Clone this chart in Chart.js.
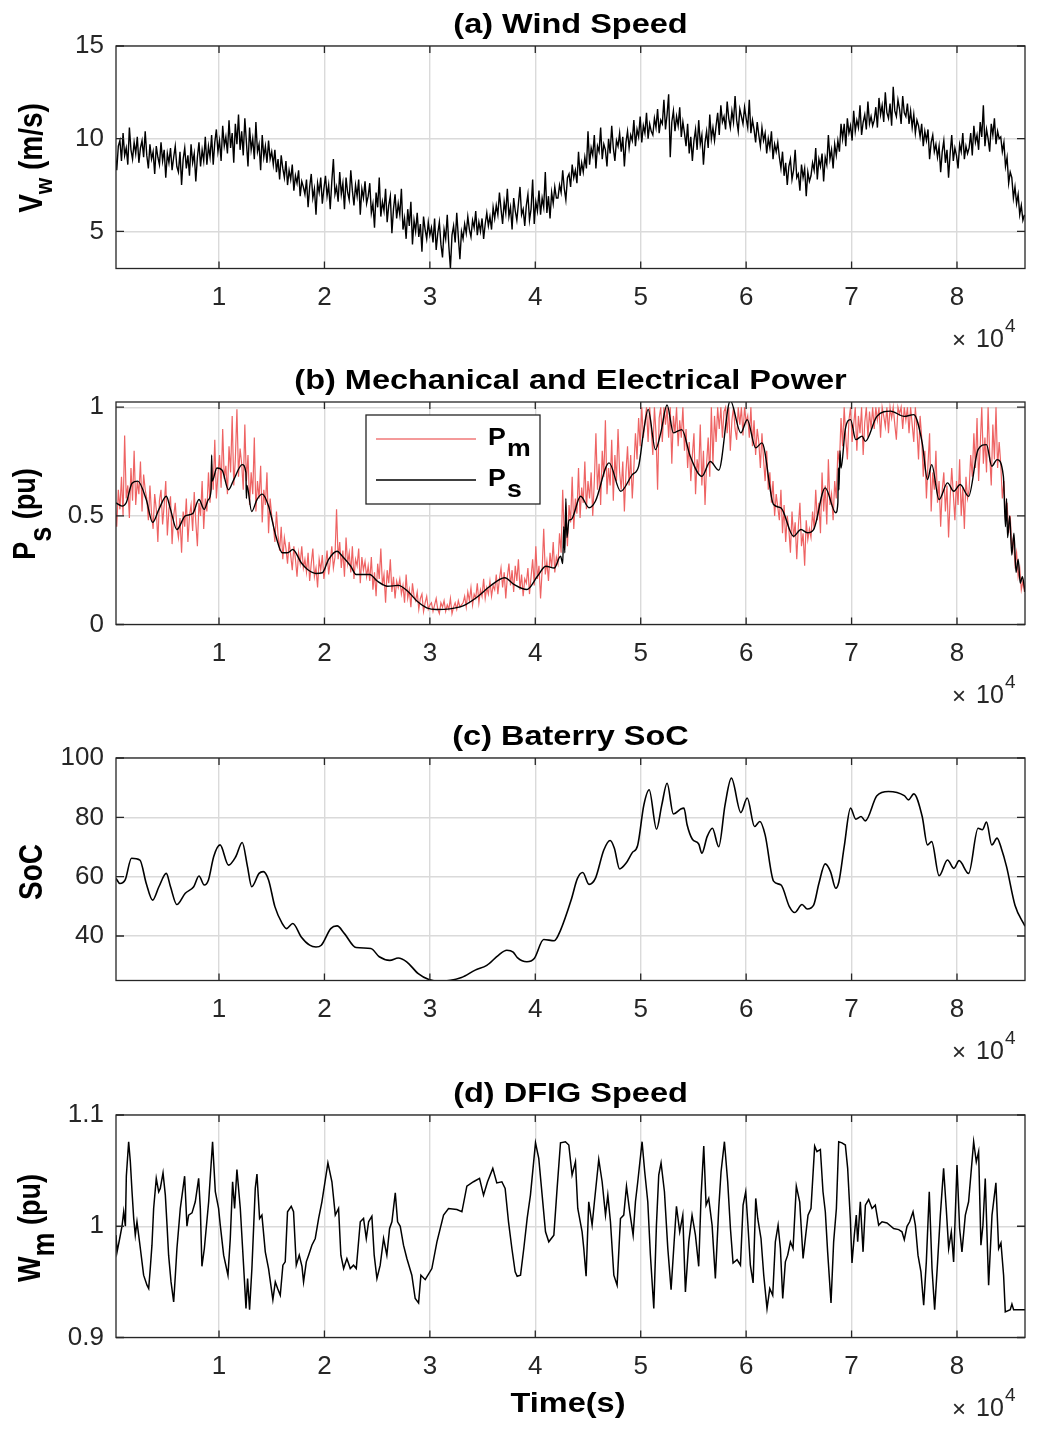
<!DOCTYPE html>
<html>
<head>
<meta charset="utf-8">
<script src="https://cdn.jsdelivr.net/npm/chart.js@4.4.1/dist/chart.umd.min.js"></script>
<style>
  body { margin: 0; background: #fff; }
  #figure { position: relative; width: 1037px; height: 1431px; }
  canvas { position: absolute; left: 0; }
</style>
</head>
<body>
<div id="figure">
  <canvas id="windChart" width="1037" height="356" style="top:0px"></canvas>
  <canvas id="powerChart" width="1037" height="356" style="top:356px"></canvas>
  <canvas id="socChart" width="1037" height="356" style="top:712px"></canvas>
  <canvas id="speedChart" width="1037" height="362" style="top:1069px"></canvas>
</div>
<script>
// time is in units of 1e4 s (the axes show x10^4)
const xTicks = [1, 2, 3, 4, 5, 6, 7, 8];
const xMin = 0.023;
const xMax = 8.645;
const sampleStep = 0.015; // 150 s between samples of the noisy traces

// (a) wind speed, m/s, one value every 150 s
const windSpeed = [
  9.2, 8.3, 9.6, 9.9, 8.8, 10.3, 9.1, 9.5, 8.6, 10.6, 9.4, 8.9, 9.8, 9.2, 10.1, 8.7, 9.5, 9.9, 9.0, 10.4,
  9.1, 8.4, 9.7, 8.9, 9.3, 8.1, 9.6, 9.0, 8.6, 9.8, 8.8, 9.4, 7.9, 9.2, 8.7, 9.5, 8.3, 9.0, 9.6, 8.5,
  8.2, 9.3, 7.5, 8.9, 9.5, 8.4, 9.1, 8.0, 9.7, 8.7, 9.2, 7.7, 9.0, 9.8, 8.5, 9.4, 8.8, 10.1, 8.6, 9.6,
  9.0, 10.2, 8.6, 9.8, 10.5, 9.3, 9.9, 8.8, 10.7, 9.6, 10.1, 9.2, 11.0, 9.5, 10.3, 8.7, 10.8, 9.7, 11.3, 9.4,
  10.4, 9.1, 11.1, 9.8, 8.5, 10.6, 9.4, 10.0, 8.9, 10.9, 9.3, 9.7, 8.3, 10.2, 9.0, 9.6, 8.7, 9.9, 8.9, 9.3,
  8.6, 9.4, 8.2, 8.9, 7.8, 9.1, 8.4, 7.9, 8.8, 7.5, 8.3, 7.8, 8.6, 7.2, 8.0, 7.6, 8.3, 6.9, 7.7, 7.4,
  7.0, 7.8, 6.3, 7.4, 8.1, 6.8, 7.3, 5.9, 7.6, 7.1, 7.9, 6.5, 7.3, 8.0, 6.9, 7.5, 6.2, 7.7, 8.9, 7.0,
  7.4, 6.6, 8.2, 7.0, 7.6, 6.2, 7.9, 7.1, 6.7, 8.3, 7.2, 6.4, 7.5, 6.9, 7.8, 5.9, 7.3, 6.8, 7.7, 6.5,
  6.9, 7.6, 6.0, 6.5, 5.2, 7.1, 6.3, 7.9, 5.8, 6.6, 6.1, 7.3, 5.5, 6.4, 6.9, 4.9, 6.2, 7.0, 5.7, 6.5,
  5.9, 7.3, 5.1, 5.7, 4.6, 6.2, 5.3, 6.6, 4.3, 5.6, 5.0, 6.0, 4.7, 5.4, 3.9, 5.8, 5.1, 4.6, 5.5, 4.8,
  5.2, 4.4, 5.7, 4.0, 4.9, 5.5, 4.3, 3.6, 5.1, 4.6, 5.9, 4.2, 3.0, 4.8, 5.3, 4.4, 6.0, 4.7, 3.5, 5.0,
  4.6, 5.4, 4.9, 5.8, 5.1, 4.7, 5.6, 5.2, 6.1, 4.8, 5.5, 5.0, 5.7, 4.6, 5.4, 6.0, 5.3, 5.8, 5.1, 6.3,
  5.7, 6.4, 5.9, 7.1, 6.2, 5.4, 6.6, 6.0, 7.3, 5.8, 6.3, 5.1, 6.8, 6.1, 5.6, 6.5, 7.4, 5.9, 6.2, 5.3,
  6.4, 7.0, 5.6, 6.2, 7.8, 5.4, 6.6, 6.1, 7.2, 5.9, 6.8, 6.3, 8.2, 6.0, 6.9, 5.7, 7.1, 6.5, 7.4, 6.8,
  6.8, 7.5, 7.1, 8.3, 7.3, 6.7, 7.9, 8.1, 7.4, 8.6, 7.9, 8.3, 7.6, 9.3, 8.0, 8.7, 8.2, 9.0, 8.4, 10.4,
  8.6, 9.5, 9.1, 10.2, 8.4, 9.6, 9.3, 10.6, 8.9, 9.7, 9.4, 8.5, 10.0, 9.2, 10.7, 9.5, 8.8, 9.9, 9.6, 10.3,
  9.3, 10.1, 8.5, 9.8, 10.4, 9.5, 10.2, 9.9, 11.0, 9.6, 10.5, 10.1, 11.2, 9.8, 10.7, 10.3, 11.4, 10.0, 10.8, 10.4,
  10.2, 11.1, 10.6, 11.6, 10.3, 11.0, 10.8, 12.1, 10.5, 11.3, 12.4, 9.0, 10.9, 11.5, 10.4, 11.2, 10.7, 11.7, 10.1, 10.9,
  10.3, 9.6, 10.8, 9.2, 10.1, 8.8, 9.9, 10.5, 9.4, 11.0, 9.7, 10.2, 8.6, 9.8, 10.4, 9.5, 11.3, 10.0, 10.6, 9.9,
  10.7, 11.4, 10.2, 11.8, 10.9, 11.2, 10.5, 12.0, 11.1, 10.6, 11.5, 10.9, 12.3, 11.0, 10.4, 11.6, 11.2, 10.8, 11.7, 11.1,
  10.6, 12.1, 10.3, 11.0, 10.5, 9.8, 10.9, 10.2, 9.6, 10.6, 9.9, 10.3, 9.2, 10.0, 9.5, 10.4, 8.9, 9.7, 9.3, 9.8,
  9.0, 8.4, 9.3, 8.0, 8.7, 7.5, 8.5, 8.9, 7.8, 8.3, 9.4, 7.9, 8.1, 7.2, 8.6, 7.9, 8.4, 6.9, 8.2, 7.7,
  8.0, 8.7, 8.3, 9.5, 7.8, 8.9, 8.5, 9.2, 7.7, 9.0, 8.6, 10.2, 8.9, 9.4, 8.4, 9.7, 9.1, 9.9, 9.3, 10.8,
  10.0, 10.8, 9.6, 11.1, 10.3, 10.7, 9.9, 11.5, 10.4, 11.0, 10.6, 11.8, 10.2, 10.9, 11.3, 10.5, 12.0, 10.8, 11.2, 10.7,
  11.0, 11.7, 10.6, 12.2, 11.3, 11.8, 10.9, 12.5, 11.4, 11.1, 11.9, 10.7, 12.8, 11.5, 11.2, 12.1, 11.6, 10.8, 12.3, 11.4,
  11.2, 11.9, 10.8, 11.5, 10.6, 11.3, 10.3, 11.0, 10.7, 10.1, 10.8, 9.6, 10.4, 9.9, 10.5, 8.9, 9.8, 10.2, 9.3, 9.7,
  9.0, 9.6, 8.2, 9.3, 9.9, 8.7, 9.4, 7.9, 9.2, 10.2, 8.8, 9.5, 9.1, 8.4, 9.7, 9.3, 10.3, 8.9, 9.6, 9.2,
  9.5, 10.3, 9.1, 10.7, 9.8, 10.2, 9.4, 10.9, 10.1, 11.8, 9.6, 10.5, 10.0, 9.3, 10.8, 10.2, 11.1, 9.7, 10.4, 10.0,
  10.1, 9.3, 9.8, 8.5, 9.0, 7.6, 8.2, 7.9, 6.8, 7.4, 6.5, 7.0, 5.9, 6.4, 5.6, 5.9
];

// (b) mechanical power Pm, pu, one value every 150 s
const mechPower = [
  0.56, 0.45, 0.62, 0.53, 0.68, 0.50, 0.87, 0.58, 0.64, 0.49, 0.72, 0.57, 0.80, 0.55, 0.66, 0.60, 0.75, 0.52, 0.69, 0.62,
  0.58, 0.48, 0.64, 0.51, 0.44, 0.60, 0.53, 0.38, 0.57, 0.62, 0.46, 0.55, 0.66, 0.41, 0.53, 0.59, 0.37, 0.50, 0.56, 0.45,
  0.40, 0.49, 0.33, 0.52, 0.45, 0.58, 0.38, 0.50, 0.55, 0.43, 0.61, 0.47, 0.36, 0.56, 0.50, 0.66, 0.44, 0.58, 0.52, 0.70,
  0.56, 0.74, 0.62, 0.85, 0.58, 0.69, 0.78, 0.63, 0.90, 0.67, 0.73, 0.60, 0.82, 0.70, 0.96, 0.64, 0.76, 0.99, 0.68, 0.81,
  0.74, 0.62, 0.92, 0.66, 0.78, 0.55, 0.70, 0.60, 0.86, 0.52, 0.66, 0.58, 0.73, 0.47, 0.62, 0.55, 0.70, 0.42, 0.58, 0.50,
  0.46, 0.38, 0.52, 0.41, 0.34, 0.45, 0.30, 0.40, 0.35, 0.28, 0.38, 0.32, 0.25, 0.36, 0.30, 0.22, 0.33, 0.28, 0.36, 0.26,
  0.30, 0.24, 0.33, 0.20, 0.28, 0.35, 0.22, 0.26, 0.17, 0.30, 0.25, 0.32, 0.21, 0.27, 0.34, 0.23, 0.29, 0.36, 0.26, 0.31,
  0.53, 0.30, 0.38, 0.26, 0.34, 0.22, 0.40, 0.28, 0.33, 0.24, 0.36, 0.21, 0.30, 0.27, 0.35, 0.19, 0.31, 0.25, 0.29, 0.22,
  0.27, 0.20, 0.31, 0.16, 0.24, 0.13, 0.28, 0.21, 0.35, 0.18, 0.23, 0.10, 0.25, 0.19, 0.30, 0.15, 0.22, 0.12, 0.20, 0.17,
  0.21, 0.14, 0.18, 0.10, 0.23, 0.12, 0.16, 0.08, 0.19, 0.13, 0.11, 0.15, 0.07, 0.12, 0.14, 0.06, 0.10, 0.13, 0.07, 0.09,
  0.10, 0.06, 0.09, 0.12, 0.07, 0.05, 0.10, 0.08, 0.11, 0.06, 0.09, 0.07, 0.12, 0.05, 0.08, 0.10, 0.07, 0.11, 0.08, 0.09,
  0.10, 0.13, 0.08, 0.15, 0.11, 0.17, 0.09, 0.14, 0.12, 0.19, 0.10, 0.16, 0.13, 0.21, 0.12, 0.17, 0.14, 0.20, 0.13, 0.18,
  0.16, 0.23, 0.14, 0.21, 0.26, 0.17, 0.24, 0.12, 0.22, 0.28, 0.18, 0.25, 0.15, 0.27, 0.20, 0.30, 0.16, 0.23, 0.13, 0.21,
  0.19, 0.26, 0.14, 0.22, 0.30, 0.18, 0.36, 0.21, 0.27, 0.12, 0.25, 0.44, 0.23, 0.29, 0.20, 0.33, 0.26, 0.38, 0.24, 0.31,
  0.28, 0.42, 0.33, 0.62, 0.40, 0.50, 0.36, 0.55, 0.47, 0.68, 0.44, 0.58, 0.51, 0.72, 0.49, 0.63, 0.56, 0.75, 0.53, 0.66,
  0.58, 0.70, 0.50, 0.66, 0.88, 0.62, 0.74, 0.55, 0.80, 0.68, 0.94, 0.60, 0.72, 0.64, 0.85, 0.57, 0.78, 0.66, 0.90, 0.70,
  0.62, 0.75, 0.52, 0.70, 0.82, 0.64, 0.78, 0.58, 0.72, 0.88, 0.76, 0.95, 0.82, 1.00, 0.86, 0.93, 1.00, 0.84, 1.00, 0.90,
  0.78, 1.00, 0.88, 0.62, 0.95, 1.00, 0.84, 1.00, 0.92, 1.00, 0.86, 1.00, 0.74, 0.96, 0.88, 1.00, 0.82, 0.94, 0.86, 1.00,
  0.80, 0.90, 0.72, 0.84, 0.66, 0.78, 0.88, 0.60, 0.76, 0.70, 0.92, 0.64, 0.80, 0.55, 0.74, 0.86, 0.68, 1.00, 0.74, 0.96,
  0.84, 1.00, 0.90, 1.00, 0.86, 0.98, 1.00, 0.88, 1.00, 0.80, 0.94, 1.00, 0.90, 0.85, 1.00, 0.92, 1.00, 0.87, 1.00, 0.93,
  0.96, 0.86, 1.00, 0.82, 0.94, 0.78, 0.90, 0.84, 0.72, 0.88, 0.76, 0.66, 0.80, 0.62, 0.70, 0.56, 0.66, 0.50, 0.60, 0.54,
  0.48, 0.62, 0.42, 0.55, 0.38, 0.50, 0.44, 0.33, 0.52, 0.40, 0.47, 0.30, 0.45, 0.56, 0.36, 0.42, 0.27, 0.48, 0.39, 0.44,
  0.40, 0.52, 0.44, 0.62, 0.48, 0.56, 0.42, 0.70, 0.52, 0.64, 0.46, 0.76, 0.55, 0.60, 0.48, 0.66, 0.58, 0.80, 0.74, 0.95,
  0.82, 1.00, 0.86, 0.76, 0.94, 1.00, 0.84, 0.92, 1.00, 0.80, 0.96, 0.88, 1.00, 0.78, 0.93, 1.00, 0.86, 0.98, 0.90, 1.00,
  0.90, 1.00, 0.94, 1.00, 0.86, 1.00, 0.96, 0.91, 1.00, 0.88, 1.00, 0.95, 1.00, 0.92, 0.85, 1.00, 0.97, 1.00, 0.90, 1.00,
  0.94, 1.00, 0.88, 1.00, 0.92, 0.84, 1.00, 0.90, 0.76, 0.96, 0.86, 0.68, 0.80, 0.58, 0.74, 0.88, 0.52, 0.70, 0.62, 0.80,
  0.56, 0.66, 0.45, 0.62, 0.70, 0.52, 0.64, 0.40, 0.58, 0.72, 0.60, 0.48, 0.66, 0.55, 0.76, 0.50, 0.63, 0.44, 0.68, 0.58,
  0.62, 0.78, 0.68, 0.88, 0.72, 0.95, 0.66, 0.82, 1.00, 0.74, 0.86, 0.70, 1.00, 0.78, 0.64, 0.92, 0.76, 1.00, 0.72, 0.84,
  0.74, 0.58, 0.66, 0.48, 0.56, 0.42, 0.50, 0.34, 0.40, 0.28, 0.33, 0.22, 0.26, 0.16, 0.20, 0.15
];

// (b) electrical power Ps, pu
const statorTime = [
  0.023, 0.08, 0.12, 0.175, 0.23, 0.31, 0.37, 0.43, 0.50, 0.54, 0.60, 0.68, 0.75, 0.81, 0.86, 0.90,
  0.925, 0.93, 0.935, 0.98, 1.03, 1.09, 1.14, 1.22, 1.255, 1.26, 1.265, 1.31, 1.36, 1.41, 1.47,
  1.54, 1.60, 1.65, 1.70, 1.78, 1.84, 1.92, 1.98, 2.04, 2.12, 2.17, 2.25, 2.30, 2.43, 2.50, 2.60,
  2.70, 2.79, 2.88, 2.97, 3.06, 3.19, 3.32, 3.44, 3.57, 3.71, 3.80, 3.92, 4.02, 4.10, 4.18, 4.24,
  4.26, 4.27, 4.28, 4.29, 4.30, 4.32, 4.34, 4.43, 4.51, 4.57, 4.70, 4.81, 4.92, 4.98, 5.03, 5.07,
  5.14, 5.19, 5.25, 5.31, 5.39, 5.47, 5.58, 5.66, 5.74, 5.85, 5.95, 6.01, 6.09, 6.15, 6.26, 6.33,
  6.45, 6.52, 6.58, 6.64, 6.75, 6.85, 6.87, 6.875, 6.88, 6.89, 6.90, 6.94, 6.99, 7.04, 7.10, 7.13,
  7.24, 7.37, 7.50, 7.59, 7.67, 7.72, 7.76, 7.83, 7.91, 7.97, 8.03, 8.11, 8.20, 8.28, 8.33, 8.38,
  8.44, 8.46, 8.47, 8.48, 8.50, 8.52, 8.54, 8.56, 8.58, 8.60, 8.62, 8.645
];
const statorPower = [
  0.56, 0.545, 0.56, 0.65, 0.66, 0.575, 0.47, 0.53, 0.59, 0.53, 0.437, 0.50, 0.51, 0.575, 0.53, 0.575,
  0.62, 0.78, 0.66, 0.72, 0.71, 0.62, 0.667, 0.736, 0.70, 0.58, 0.64, 0.52, 0.575, 0.60, 0.545,
  0.406, 0.33, 0.33, 0.345, 0.284, 0.253, 0.235, 0.238, 0.30, 0.337, 0.314, 0.268, 0.23, 0.23, 0.20, 0.176,
  0.18, 0.153, 0.107, 0.077, 0.069, 0.072, 0.087, 0.123, 0.176, 0.215, 0.184, 0.161, 0.222, 0.268, 0.26, 0.314,
  0.28, 0.45, 0.33, 0.58, 0.40, 0.48, 0.483, 0.59, 0.537, 0.567, 0.744, 0.613, 0.69, 0.728, 0.897, 0.99,
  0.805, 0.882, 1.01, 0.882, 0.897, 0.774, 0.682, 0.75, 0.71, 1.03, 0.882, 0.943, 0.813, 0.836, 0.552, 0.537,
  0.406, 0.437, 0.422, 0.437, 0.629, 0.514, 0.56, 0.72, 0.62, 0.80, 0.72, 0.897, 0.943, 0.851, 0.867, 0.843,
  0.958, 0.982, 0.958, 0.966, 0.836, 0.667, 0.736, 0.575, 0.652, 0.613, 0.644, 0.59, 0.805, 0.828, 0.728, 0.759,
  0.682, 0.45, 0.58, 0.40, 0.50, 0.32, 0.42, 0.24, 0.30, 0.19, 0.22, 0.15
];

// (c) battery state of charge, %
const socTime = [
  0.023, 0.06, 0.11, 0.17, 0.25, 0.31, 0.37, 0.43, 0.50, 0.54, 0.60, 0.68, 0.76, 0.81, 0.86, 0.90,
  0.95, 1.01, 1.09, 1.16, 1.22, 1.27, 1.31, 1.38, 1.42, 1.47, 1.53, 1.60, 1.64, 1.70, 1.78, 1.86,
  1.92, 1.97, 2.06, 2.12, 2.19, 2.30, 2.44, 2.52, 2.62, 2.70, 2.78, 2.89, 2.99, 3.09, 3.30, 3.43,
  3.54, 3.65, 3.73, 3.79, 3.83, 3.92, 3.99, 4.08, 4.18, 4.24, 4.34, 4.40, 4.45, 4.51, 4.57, 4.65,
  4.71, 4.75, 4.80, 4.86, 4.92, 4.97, 5.03, 5.08, 5.15, 5.20, 5.25, 5.31, 5.38, 5.41, 5.44, 5.49,
  5.55, 5.58, 5.63, 5.68, 5.74, 5.80, 5.86, 5.95, 6.01, 6.08, 6.13, 6.18, 6.26, 6.33, 6.41, 6.46,
  6.53, 6.58, 6.64, 6.69, 6.75, 6.80, 6.85, 6.88, 6.93, 6.99, 7.04, 7.09, 7.13, 7.24, 7.35, 7.50,
  7.54, 7.59, 7.67, 7.72, 7.76, 7.83, 7.91, 7.97, 8.02, 8.11, 8.20, 8.24, 8.28, 8.33, 8.38, 8.42,
  8.47, 8.55, 8.645
];
const socLevel = [
  59.4, 57.7, 58.9, 66.2, 65.6, 57.7, 52.1, 56.6, 61.1, 56.6, 50.6, 54.4, 56.6, 60.2, 57.2, 58.9,
  66.8, 70.7, 63.9, 66.8, 71.5, 63.4, 56.6, 61.1, 61.7, 58.9, 49.9, 44.2, 42.5, 44.2, 39.7, 36.9,
  36.3, 36.9, 42.5, 43.4, 40.8, 36.1, 35.8, 33.0, 31.8, 32.6, 31.3, 27.3, 25.3, 24.7, 26.0, 28.5,
  30.1, 33.5, 35.2, 34.6, 32.7, 31.3, 32.4, 38.8, 38.4, 42.0, 52.1, 59.4, 61.4, 57.4, 59.4, 69.0,
  72.2, 69.6, 62.6, 64.5, 68.1, 70.4, 84.2, 89.3, 76.0, 84.2, 91.5, 81.1, 82.8, 83.1, 77.5, 72.6,
  71.0, 67.9, 73.5, 76.3, 70.1, 84.2, 93.2, 81.6, 86.5, 76.9, 78.6, 74.1, 58.5, 57.2, 49.9, 47.9,
  50.6, 49.1, 50.4, 57.7, 64.3, 61.7, 56.1, 58.3, 70.1, 83.1, 79.4, 80.3, 78.8, 87.3, 88.7, 87.3,
  85.9, 87.9, 80.3, 70.7, 71.8, 60.3, 65.6, 62.8, 65.4, 61.1, 76.3, 75.8, 78.4, 70.7, 73.0, 69.6,
  63.4, 50.4, 43.3
];

// (d) DFIG rotor speed, pu
const rotorTime = [
  0.023, 0.033, 0.058, 0.080, 0.096, 0.112, 0.121, 0.143, 0.159, 0.175, 0.191, 0.206, 0.222, 0.238, 0.254, 0.285,
  0.317, 0.333, 0.348, 0.364, 0.380, 0.405, 0.428, 0.443, 0.469, 0.491, 0.507, 0.522, 0.545, 0.570, 0.586, 0.601,
  0.633, 0.674, 0.696, 0.712, 0.744, 0.775, 0.807, 0.823, 0.838, 0.861, 0.902, 0.939, 0.965, 0.996, 1.012, 1.044,
  1.085, 1.107, 1.129, 1.148, 1.170, 1.202, 1.233, 1.256, 1.271, 1.290, 1.312, 1.344, 1.360, 1.385, 1.407, 1.439,
  1.470, 1.511, 1.534, 1.556, 1.581, 1.606, 1.628, 1.650, 1.685, 1.707, 1.733, 1.761, 1.787, 1.802, 1.828, 1.850,
  1.881, 1.913, 1.945, 1.976, 2.033, 2.071, 2.103, 2.134, 2.156, 2.182, 2.213, 2.245, 2.276, 2.302, 2.340, 2.371,
  2.397, 2.419, 2.450, 2.472, 2.498, 2.529, 2.561, 2.592, 2.618, 2.640, 2.672, 2.694, 2.719, 2.750, 2.782, 2.829,
  2.861, 2.893, 2.915, 2.956, 3.019, 3.067, 3.130, 3.177, 3.256, 3.304, 3.351, 3.414, 3.471, 3.509, 3.547, 3.597,
  3.635, 3.683, 3.714, 3.746, 3.778, 3.809, 3.828, 3.860, 3.891, 3.923, 3.954, 4.002, 4.033, 4.065, 4.097, 4.128,
  4.176, 4.207, 4.239, 4.286, 4.318, 4.349, 4.381, 4.403, 4.444, 4.460, 4.482, 4.507, 4.539, 4.561, 4.602, 4.634,
  4.666, 4.688, 4.713, 4.745, 4.776, 4.808, 4.839, 4.865, 4.896, 4.928, 4.950, 4.972, 5.013, 5.038, 5.067, 5.092,
  5.124, 5.149, 5.171, 5.193, 5.225, 5.257, 5.288, 5.313, 5.339, 5.370, 5.399, 5.424, 5.456, 5.487, 5.519, 5.550,
  5.573, 5.598, 5.620, 5.645, 5.677, 5.708, 5.740, 5.762, 5.794, 5.825, 5.851, 5.876, 5.914, 5.946, 5.971, 5.996,
  6.015, 6.040, 6.066, 6.091, 6.110, 6.141, 6.167, 6.198, 6.224, 6.252, 6.277, 6.303, 6.325, 6.347, 6.372, 6.394,
  6.420, 6.445, 6.476, 6.508, 6.540, 6.565, 6.587, 6.615, 6.650, 6.672, 6.704, 6.729, 6.751, 6.773, 6.805, 6.830,
  6.856, 6.878, 6.909, 6.941, 6.963, 6.988, 7.004, 7.026, 7.045, 7.058, 7.083, 7.109, 7.131, 7.162, 7.194, 7.225,
  7.257, 7.289, 7.336, 7.399, 7.447, 7.478, 7.500, 7.526, 7.551, 7.583, 7.605, 7.630, 7.658, 7.684, 7.709, 7.737,
  7.763, 7.788, 7.816, 7.842, 7.873, 7.898, 7.921, 7.946, 7.968, 8.000, 8.025, 8.047, 8.079, 8.110, 8.158, 8.183,
  8.205, 8.227, 8.246, 8.268, 8.300, 8.332, 8.369, 8.395, 8.417, 8.442, 8.458, 8.505, 8.521, 8.537, 8.632, 8.645
];
const rotorSpeed = [
  0.992, 0.977, 0.989, 1.000, 1.013, 1.000, 1.045, 1.076, 1.058, 1.031, 1.007, 0.992, 1.004, 0.992, 0.980, 0.956,
  0.947, 0.944, 0.962, 0.983, 1.016, 1.043, 1.031, 1.034, 1.048, 1.028, 1.001, 0.974, 0.950, 0.932, 0.956, 0.980,
  1.016, 1.045, 1.000, 1.010, 1.012, 1.022, 1.043, 1.016, 0.964, 0.980, 1.022, 1.076, 1.031, 1.016, 1.001, 0.974,
  0.956, 0.989, 1.040, 1.016, 1.051, 1.016, 0.965, 0.926, 0.953, 0.925, 0.962, 1.034, 1.047, 1.007, 1.010, 0.977,
  0.962, 0.934, 0.950, 0.944, 0.938, 0.965, 0.968, 1.013, 1.018, 1.013, 0.965, 0.974, 0.964, 0.950, 0.968, 0.974,
  0.983, 0.989, 1.007, 1.022, 1.057, 1.040, 1.010, 1.016, 0.974, 0.962, 0.971, 0.962, 0.965, 0.962, 1.004, 1.007,
  0.989, 1.004, 1.009, 0.974, 0.953, 0.965, 0.989, 0.974, 0.998, 1.004, 1.030, 1.004, 1.000, 0.983, 0.971, 0.956,
  0.935, 0.931, 0.956, 0.952, 0.962, 0.986, 1.010, 1.016, 1.015, 1.013, 1.036, 1.040, 1.043, 1.028, 1.040, 1.052,
  1.039, 1.040, 1.034, 1.004, 0.980, 0.959, 0.955, 0.956, 0.980, 1.007, 1.028, 1.075, 1.061, 1.028, 0.995, 0.986,
  0.992, 1.034, 1.075, 1.076, 1.073, 1.046, 1.058, 1.016, 0.995, 0.980, 0.955, 1.022, 1.001, 1.022, 1.060, 1.040,
  1.010, 1.028, 1.004, 0.956, 0.947, 1.007, 1.010, 1.036, 1.013, 0.992, 1.022, 1.040, 1.076, 1.049, 1.022, 0.974,
  0.926, 1.001, 1.046, 1.057, 1.031, 0.980, 0.943, 0.980, 1.018, 0.995, 1.010, 0.941, 0.986, 1.010, 0.992, 0.964,
  1.028, 1.072, 1.019, 1.025, 1.001, 0.953, 1.016, 1.049, 1.076, 1.040, 0.998, 0.967, 0.970, 0.965, 1.019, 1.031,
  1.004, 0.965, 0.949, 1.025, 1.007, 0.989, 0.956, 0.926, 0.944, 0.938, 0.986, 1.001, 0.980, 0.935, 0.968, 0.974,
  0.986, 0.980, 1.036, 1.022, 0.971, 0.992, 1.010, 1.016, 1.072, 1.067, 1.069, 1.031, 1.013, 0.977, 0.931, 0.986,
  1.016, 1.076, 1.075, 1.073, 1.052, 1.007, 0.967, 0.992, 1.010, 0.986, 1.022, 0.977, 1.019, 1.024, 1.016, 1.019,
  1.001, 1.004, 1.003, 0.998, 0.997, 0.995, 0.988, 1.000, 1.004, 1.013, 1.001, 0.974, 0.959, 0.929, 0.968, 1.031,
  0.962, 0.925, 0.968, 1.010, 1.052, 1.016, 0.980, 0.995, 0.968, 1.055, 0.998, 0.977, 1.010, 1.022, 1.076, 1.058,
  1.067, 0.983, 1.001, 1.043, 0.947, 1.010, 1.039, 0.980, 0.985, 0.956, 0.923, 0.925, 0.930, 0.925, 0.925, 0.925
];

const FONT = '"Liberation Sans", Arial, Helvetica, sans-serif';
const INK = '#262626';
const GRID = '#dadada';
const BOLD_STRETCH = 1.16;

// per-canvas decorations (titles, labels, legend); kept out of chart options
const frames = {};

function sampled(values) {
  return values.map((v, i) => ({ x: (i + 1) * sampleStep, y: v }));
}
function paired(times, values) {
  return times.map((t, i) => ({ x: t, y: values[i] }));
}

function drawRuns(ctx, runs, x, y) {
  let cx = x;
  runs.forEach(r => {
    ctx.font = `bold ${r.size}px ${FONT}`;
    ctx.fillText(r.text, cx, y + (r.shift || 0));
    cx += ctx.measureText(r.text).width + (r.gap || 0);
  });
}
function runsWidth(ctx, runs) {
  let w = 0;
  runs.forEach(r => {
    ctx.font = `bold ${r.size}px ${FONT}`;
    w += ctx.measureText(r.text).width + (r.gap || 0);
  });
  return w;
}

const matlabFrame = {
  id: 'matlabFrame',
  afterDatasetsDraw(chart) {
    const { ctx, chartArea: a, scales } = chart;
    ctx.save();
    ctx.strokeStyle = INK;
    ctx.lineWidth = 1.3;
    ctx.beginPath();
    scales.x.ticks.forEach(t => {
      const px = scales.x.getPixelForValue(t.value);
      ctx.moveTo(px, a.bottom); ctx.lineTo(px, a.bottom - 7);
      ctx.moveTo(px, a.top); ctx.lineTo(px, a.top + 7);
    });
    scales.y.ticks.forEach(t => {
      const py = scales.y.getPixelForValue(t.value);
      ctx.moveTo(a.left, py); ctx.lineTo(a.left + 8, py);
      ctx.moveTo(a.right, py); ctx.lineTo(a.right - 8, py);
    });
    ctx.stroke();
    ctx.strokeRect(a.left, a.top, a.right - a.left, a.bottom - a.top);
    ctx.restore();
  },
  afterDraw(chart) {
    const opts = frames[chart.canvas.id];
    if (!opts) return;
    const { ctx, chartArea: a } = chart;
    ctx.save();
    ctx.fillStyle = '#000';
    ctx.textBaseline = 'alphabetic';

    // panel title
    ctx.font = `bold 28px ${FONT}`;
    const tw = ctx.measureText(opts.title).width * BOLD_STRETCH;
    ctx.save();
    ctx.translate((a.left + a.right) / 2 - tw / 2, 33);
    ctx.scale(BOLD_STRETCH, 1);
    ctx.fillText(opts.title, 0, 0);
    ctx.restore();

    // rotated y label with subscript
    const lw = runsWidth(ctx, opts.ylabel);
    ctx.save();
    ctx.translate(opts.ylabelX, opts.ylabelY);
    ctx.rotate(-Math.PI / 2);
    ctx.scale(1, BOLD_STRETCH);
    drawRuns(ctx, opts.ylabel, -lw / 2, 0);
    ctx.restore();

    // x10^4 exponent
    ctx.fillStyle = INK;
    ctx.font = `24px ${FONT}`;
    ctx.fillText('\u00d7', 952, 348);
    ctx.font = `25px ${FONT}`;
    ctx.fillText('10', 976, 347);
    ctx.font = `19px ${FONT}`;
    ctx.fillText('4', 1005, 332);

    if (opts.xlabel) {
      ctx.fillStyle = '#000';
      ctx.font = `bold 28px ${FONT}`;
      const xw = ctx.measureText(opts.xlabel).width * BOLD_STRETCH;
      ctx.save();
      ctx.translate(568 - xw / 2, 343);
      ctx.scale(BOLD_STRETCH, 1);
      ctx.fillText(opts.xlabel, 0, 0);
      ctx.restore();
    }

    if (opts.legend) {
      const L = opts.legend;
      ctx.fillStyle = '#fff';
      ctx.fillRect(L.x, L.y, L.w, L.h);
      ctx.strokeStyle = INK;
      ctx.lineWidth = 1.3;
      ctx.strokeRect(L.x, L.y, L.w, L.h);
      L.items.forEach((it, i) => {
        const yy = L.y + 24 + i * 41;
        ctx.strokeStyle = it.color;
        ctx.lineWidth = 1.5;
        ctx.beginPath();
        ctx.moveTo(L.x + 10, yy); ctx.lineTo(L.x + 110, yy);
        ctx.stroke();
        ctx.fillStyle = '#000';
        ctx.save();
        ctx.translate(L.x + 122, yy + 6);
        ctx.scale(BOLD_STRETCH, 1);
        drawRuns(ctx, it.label, 0, 0);
        ctx.restore();
      });
    }
    ctx.restore();
  }
};

function makePanel(id, cfg) {
  frames[id] = cfg.frame;
  const tickFont = { family: FONT, size: 26 };
  new Chart(document.getElementById(id), {
    type: 'line',
    data: { datasets: cfg.datasets },
    options: {
      responsive: false,
      animation: false,
      devicePixelRatio: 1,
      layout: { padding: { top: 46, left: 0, right: 12, bottom: cfg.bottomPad } },
      elements: { point: { radius: 0 }, line: { tension: 0 } },
      plugins: {
        legend: { display: false },
        tooltip: { enabled: false }
      },
      scales: {
        x: {
          type: 'linear',
          min: xMin,
          max: xMax,
          afterBuildTicks: s => { s.ticks = xTicks.map(v => ({ value: v })); },
          afterFit: s => { s.height = 50; },
          ticks: { font: tickFont, color: INK, padding: 14, maxRotation: 0, autoSkip: false, callback: v => String(v) },
          grid: { color: GRID, lineWidth: 1.4, drawTicks: false },
          border: { display: false }
        },
        y: {
          min: cfg.yMin,
          max: cfg.yMax,
          afterBuildTicks: s => { s.ticks = cfg.yTicks.map(v => ({ value: v })); },
          afterFit: s => { s.width = 116; },
          ticks: { font: tickFont, color: INK, padding: 12, autoSkip: false, callback: v => String(v) },
          grid: { color: GRID, lineWidth: 1.4, drawTicks: false },
          border: { display: false }
        }
      }
    },
    plugins: [matlabFrame]
  });
}

const windTicks = [5, 10, 15];
const powerTicks = [0, 0.5, 1];
const socTicks = [40, 60, 80, 100];
const speedTicks = [0.9, 1, 1.1];

makePanel('windChart', {
  yMin: 3, yMax: 15, yTicks: windTicks, bottomPad: 37.5,
  datasets: [{ data: sampled(windSpeed), borderColor: '#000', borderWidth: 1.4 }],
  frame: {
    title: '(a) Wind Speed',
    ylabelX: 42, ylabelY: 158,
    ylabel: [{ text: 'V', size: 28 }, { text: 'w', size: 21, shift: 9 }, { text: ' (m/s)', size: 28 }]
  }
});

makePanel('powerChart', {
  yMin: 0, yMax: 1.024, yTicks: powerTicks, bottomPad: 37.5,
  datasets: [
    { label: 'Ps', data: paired(statorTime, statorPower), borderColor: '#000', borderWidth: 1.4, cubicInterpolationMode: 'monotone' },
    { label: 'Pm', data: sampled(mechPower), borderColor: '#ee6363', borderWidth: 1.2 }
  ],
  frame: {
    title: '(b) Mechanical and Electrical Power',
    ylabelX: 35, ylabelY: 158,
    ylabel: [{ text: 'P', size: 27 }, { text: 's', size: 27, shift: 14 }, { text: ' (pu)', size: 27 }],
    legend: {
      x: 366, y: 59, w: 174, h: 89,
      items: [
        { color: '#f07878', label: [{ text: 'P', size: 23, gap: 1 }, { text: 'm', size: 23, shift: 11 }] },
        { color: '#000', label: [{ text: 'P', size: 23, gap: 1 }, { text: 's', size: 23, shift: 11 }] }
      ]
    }
  }
});

makePanel('socChart', {
  yMin: 25, yMax: 100, yTicks: socTicks, bottomPad: 37.5,
  datasets: [{ data: paired(socTime, socLevel), borderColor: '#000', borderWidth: 1.6, cubicInterpolationMode: 'monotone' }],
  frame: {
    title: '(c) Baterry SoC',
    ylabelX: 42, ylabelY: 160,
    ylabel: [{ text: 'SoC', size: 28 }]
  }
});

makePanel('speedChart', {
  yMin: 0.9, yMax: 1.1, yTicks: speedTicks, bottomPad: 43.5,
  datasets: [{ data: paired(rotorTime, rotorSpeed), borderColor: '#000', borderWidth: 1.5 }],
  frame: {
    title: '(d) DFIG Speed',
    xlabel: 'Time(s)',
    ylabelX: 40, ylabelY: 159,
    ylabel: [{ text: 'W', size: 27 }, { text: 'm', size: 27, shift: 12 }, { text: ' (pu)', size: 27 }]
  }
});
</script>
</body>
</html>
